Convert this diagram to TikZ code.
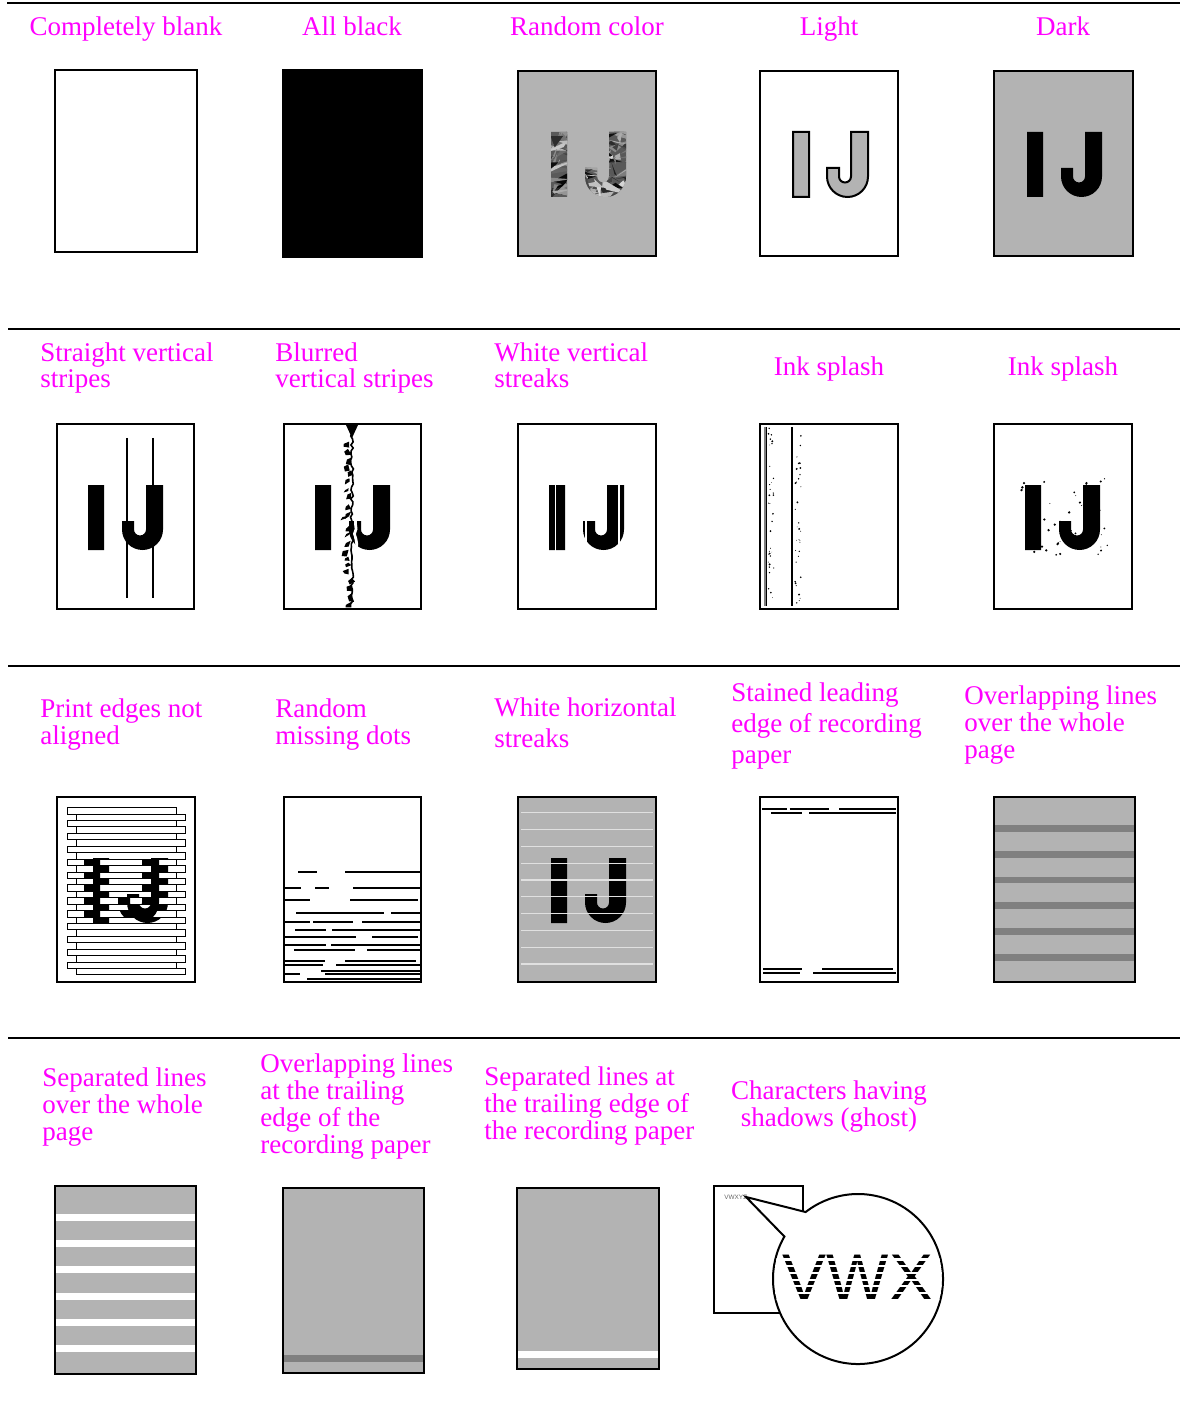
\documentclass[tikz,border=0pt]{standalone}
\usepackage{fontspec}
\setmainfont{Liberation Serif}
\newfontfamily\glyphfont{Liberation Sans}
\usepackage{xcolor}
\usepackage{tikz}
\definecolor{labelpink}{HTML}{FF00FF}
\definecolor{pagegray}{HTML}{B3B3B3}
\definecolor{bandgray}{HTML}{808080}
\newcommand\ijshape{(33,61) rectangle (49,126)
  (91,61) -- (108,61) -- (108,105.5) arc[start angle=0,end angle=180,radius=20.5]
  -- (67,97) -- (79,97) -- (79,105.5) arc[start angle=180,end angle=0,radius=6] -- cycle}

\begin{document}
\begin{tikzpicture}[
  x=0.5pt,y=-0.5pt,
  page/.style={draw,line width=1.3pt},
  rule/.style={line width=1pt},
  lbl/.style={text=labelpink,inner sep=0pt,font=\fontsize{13.5}{13.4}\selectfont},
  lblmulti/.style={lbl,align=left,anchor=base west},
  lblwide/.style={font=\fontsize{13.5}{15.5}\selectfont},
  dotline/.style={line width=1.3pt},
  stain/.style={line width=1pt},
  streak/.style={white,line width=0.8pt},
  bigglyph/.style={inner sep=0pt,font=\glyphfont\fontsize{33}{33}\selectfont}
]
\useasboundingbox (0,0) rectangle (1180,1422);
\draw[rule] (7,3) -- (1180,3);
\draw[rule] (8,329) -- (1180,329);
\draw[rule] (8,666) -- (1180,666);
\draw[rule] (8,1038) -- (1180,1038);

% row 1
\node[lbl,anchor=base] (lblblank) at (126,36) {Completely blank};
\node[lbl,anchor=base] (lblblack) at (352,36) {All black};
\node[lbl,anchor=base] (lblrandom) at (587,36) {Random color};
\node[lbl,anchor=base] (lbllight) at (829,36) {Light};
\node[lbl,anchor=base] (lbldark) at (1063,36) {Dark};

\draw[page] (55,70) rectangle (197,252);
\fill (283,70) rectangle (422,257);
\draw[page] (283,70) rectangle (422,257);

\begin{scope}[shift={(518,71)}]
  \fill[pagegray] (0,0) rectangle (138,185);
  \begin{scope}
    \clip \ijshape;
    \fill[black!65] (30,58) rectangle (112,130);
    \pgfmathsetseed{11}
    \foreach \k in {1,...,160}{
      \pgfmathsetmacro\ax{30+82*rnd}
      \pgfmathsetmacro\ay{58+72*rnd}
      \pgfmathsetmacro\sh{15+85*rnd}
      \fill[black!\sh] (\ax,\ay) -- ++({26*rand},{8*rand}) -- ++({14*rand},{14*rand}) -- cycle;
    }
  \end{scope}
  \draw[page] (0,0) rectangle (138,185);
\end{scope}

\begin{scope}[shift={(760,71)}]
  \filldraw[fill=pagegray,line width=1pt] \ijshape;
  \draw[page] (0,0) rectangle (138,185);
\end{scope}

\begin{scope}[shift={(994,71)}]
  \fill[pagegray] (0,0) rectangle (139,185);
  \fill \ijshape;
  \draw[page] (0,0) rectangle (139,185);
\end{scope}

% row 2
\node[lblmulti] (lblstraight) at (40,388) {Straight vertical\\stripes};
\node[lblmulti] (lblblurred) at (275,388) {Blurred\\vertical stripes};
\node[lblmulti] (lblwhitev) at (494,388) {White vertical\\streaks};
\node[lbl,anchor=base] (lblinka) at (829,376) {Ink splash};
\node[lbl,anchor=base] (lblinkb) at (1063,376) {Ink splash};

\begin{scope}[shift={(57,424)}]
  \fill[shift={(-2,0)}] \ijshape;
  \draw[line width=0.8pt] (70,14) -- (70,174);
  \draw[line width=0.8pt] (96,14) -- (96,174);
  \draw[page] (0,0) rectangle (137,185);
\end{scope}

\begin{scope}[shift={(284,424)}]
  \fill[shift={(-2,0)}] \ijshape;
  \pgfmathsetseed{5}
  \draw[white,line width=1.4pt] (71,2) \foreach \k in {1,...,36}{ -- ({71+2*rand},{\k*5}) };
  \draw[line width=0.8pt] (68,1) \foreach \k in {1,...,60}{ -- ({68+1.5*rand},{\k*3}) };
  \foreach \k in {1,...,22}{
    \pgfmathsetmacro\bx{66+2.5*rand}
    \pgfmathsetmacro\by{10+7.6*\k+2*rand}
    \fill (\bx,\by) -- ++({-3-3*rnd},{1+2*rnd}) -- ++({2*rand},{2+3*rnd}) -- ++({4+2*rnd},{-1+2*rand}) -- cycle;
  }
  \fill (62,1) -- (74,1) -- (68,14) -- cycle;
  \draw[page] (0,0) rectangle (137,185);
\end{scope}

\begin{scope}[shift={(518,424)}]
  \fill[shift={(-2,0)}] \ijshape;
  \draw[streak] (37.5,55) -- (37.5,130);
  \draw[streak] (68,55) -- (68,130);
  \draw[streak] (101,55) -- (101,130);
  \draw[page] (0,0) rectangle (138,185);
\end{scope}

\begin{scope}[shift={(760,424)}]
  \draw[line width=0.6pt,black!50] (5,3) -- (5,182);
  \draw[line width=0.6pt] (6.5,3) -- (6.5,182);
  \draw[line width=0.6pt] (32,3) -- (32,182);
  \pgfmathsetseed{8}
  \foreach \k in {1,...,35}{ \fill ({8+6*rnd},{4+176*rnd}) circle[radius={0.3+0.8*rnd}]; }
  \foreach \k in {1,...,35}{ \fill ({34+7*rnd},{4+176*rnd}) circle[radius={0.3+0.8*rnd}]; }
  \draw[page] (0,0) rectangle (138,185);
\end{scope}

\begin{scope}[shift={(994,424)}]
  \fill[shift={(-2,0)}] \ijshape;
  \pgfmathsetseed{3}
  \foreach \k in {1,...,45}{ \fill ({26+88*rnd},{54+80*rnd}) circle[radius={0.4+1*rnd}]; }
  \draw[page] (0,0) rectangle (138,185);
\end{scope}

% row 3
\node[lblmulti] (lbledges) at (40,744) {Print edges not\\aligned};
\node[lblmulti] (lblmissing) at (275,744) {Random\\missing dots};
\node[lblmulti,lblwide] (lblwhiteh) at (494,747) {White horizontal\\streaks};
\node[lblmulti,lblwide] (lblstained) at (731,763) {Stained leading\\edge of recording\\paper};
\node[lblmulti] (lbloverall) at (964,758) {Overlapping lines\\over the whole\\page};

\begin{scope}[shift={(57,797)}]
  \foreach \k in {0,...,25}{
    \pgfmathsetmacro\ya{10.7+6.43*\k}
    \pgfmathsetmacro\yb{\ya+6.43}
    \pgfmathsetmacro\xa{mod(\k,2)==0 ? 10 : 19}
    \pgfmathsetmacro\dx{mod(\k,2)==0 ? -6 : 3}
    \begin{scope}
      \clip (\xa,\ya) rectangle ({\xa+109},\yb);
      \fill[white] (\xa,\ya) rectangle ({\xa+109},\yb);
      \fill[shift={(\dx,0)}] \ijshape;
    \end{scope}
    \draw[line width=0.5pt] (\xa,\ya) rectangle ({\xa+109},\yb);
  }
  \draw[page] (0,0) rectangle (138,185);
\end{scope}

\begin{scope}[shift={(284,797)}]
  \foreach \ya/\xa/\xb in {75/14/33, 75/61/136, 91/1/17, 91/31/45, 91/69/136,
      103/1/26, 103/66/134, 116/12/100, 116/107/136, 125/1/26, 125/29/69, 125/78/136,
      133/11/42, 133/48/136, 140/1/72, 140/88/134, 148/1/42, 148/47/136,
      153/10/71, 153/83/136, 164/1/41, 164/61/132, 168/1/39, 168/52/136,
      174/37/136, 177/1/16, 177/41/136, 182/23/136}{
    \draw[dotline] (\xa,\ya) -- (\xb,\ya);
  }
  \draw[page] (0,0) rectangle (137,185);
\end{scope}

\begin{scope}[shift={(518,797)}]
  \fill[pagegray] (0,0) rectangle (138,185);
  \fill \ijshape;
  \foreach \k in {0,...,9}{
    \draw[white!88!black,line width=0.6pt] (3,{15.8+16.8*\k}) -- (135,{15.8+16.8*\k});
  }
  \draw[page] (0,0) rectangle (138,185);
\end{scope}

\begin{scope}[shift={(760,797)}]
  \foreach \ya/\xa/\xb in {11.5/2/27, 11.5/29.5/69, 11.5/79/136, 15.5/11/42, 15.5/49/136,
      171.6/3/41.6, 171.6/62/133, 175.6/3/40, 175.6/53/136}{
    \draw[stain] (\xa,\ya) -- (\xb,\ya);
  }
  \draw[page] (0,0) rectangle (138,185);
\end{scope}

\begin{scope}[shift={(994,797)}]
  \fill[pagegray] (0,0) rectangle (141,185);
  \foreach \k in {0,...,5}{ \fill[bandgray] (0,{28+25.8*\k}) rectangle (141,{34.8+25.8*\k}); }
  \draw[page] (0,0) rectangle (141,185);
\end{scope}

% row 4
\node[lblmulti] (lblsepall) at (42,1140) {Separated lines\\over the whole\\page};
\node[lblmulti] (lbloverend) at (260,1153) {Overlapping lines\\at the trailing\\edge of the\\recording paper};
\node[lblmulti] (lblsepend) at (484,1139) {Separated lines at\\the trailing edge of\\the recording paper};
\node[lbl,align=center,anchor=base] (lblghost) at (829,1126) {Characters having\\shadows (ghost)};

\begin{scope}[shift={(55,1186)}]
  \fill[pagegray] (0,0) rectangle (141,188);
  \foreach \k in {0,...,5}{ \fill[white] (0,{28+26.2*\k}) rectangle (141,{35+26.2*\k}); }
  \draw[page] (0,0) rectangle (141,188);
\end{scope}

\begin{scope}[shift={(283,1188)}]
  \fill[pagegray] (0,0) rectangle (141,185);
  \fill[bandgray] (0,167) rectangle (141,174);
  \draw[page] (0,0) rectangle (141,185);
\end{scope}

\begin{scope}[shift={(517,1188)}]
  \fill[pagegray] (0,0) rectangle (142,181);
  \fill[white] (0,163) rectangle (142,170);
  \draw[page] (0,0) rectangle (142,181);
\end{scope}

\draw[line width=0.8pt] (714,1186) rectangle (803,1313);
\node[inner sep=0pt,anchor=base west,text=black!60,font=\glyphfont\fontsize{3.2}{3.2}\selectfont] (smalltext) at (724,1199) {VWXYZ};
\filldraw[fill=white,line width=1pt] (858,1279) ++(210:85) arc[start angle=210,end angle=-128,radius=85] -- (746,1197) -- cycle;
\begin{scope}
  \clip (858,1279) circle[radius=84];
  \node[bigglyph] (ghostmain) at (858,1278) {VWX};
  \foreach \k in {0,...,6}{ \draw[white,line width=1.1pt] (775,{1259.5+6.7*\k}) -- (942,{1259.5+6.7*\k}); }
\end{scope}
\end{tikzpicture}
\end{document}
